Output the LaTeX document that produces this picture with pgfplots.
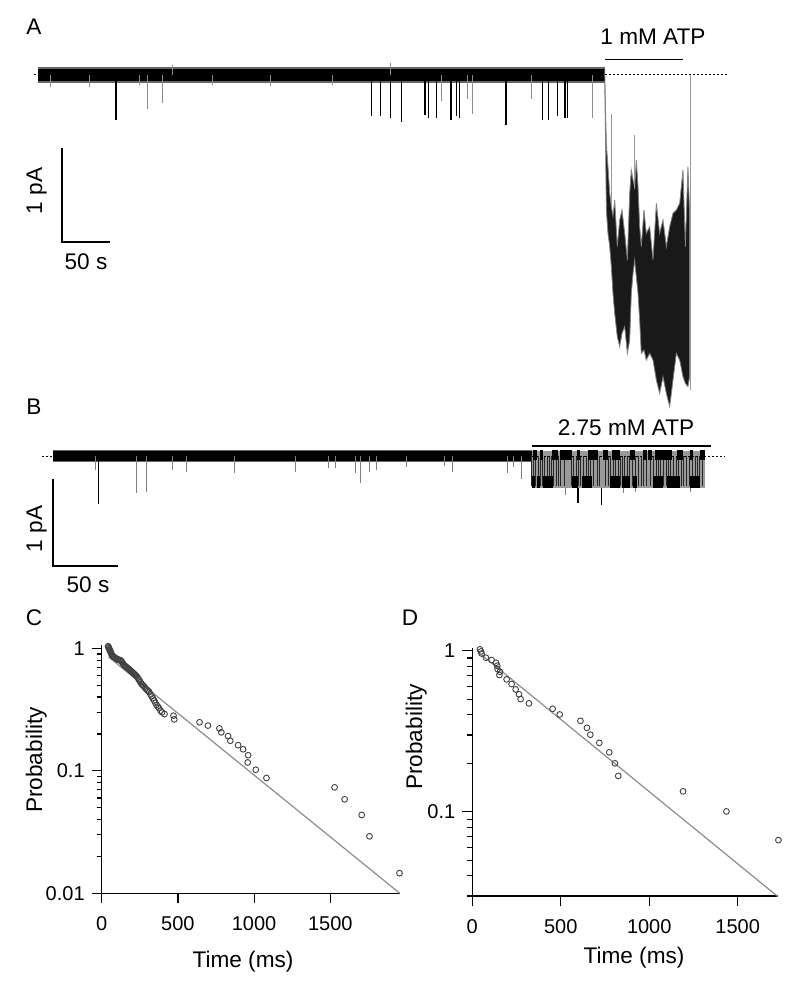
\documentclass[border=0pt]{standalone}
\usepackage{fontspec}
\setmainfont{Liberation Sans}
\usepackage{pgfplots}
\pgfplotsset{compat=1.18}
\definecolor{fitgray}{gray}{0.55}
\definecolor{markgray}{gray}{0.25}

\pgfplotsset{
  trace/.style={scale only axis, hide axis, clip=false, anchor=south west},
  surv/.style={scale only axis, clip=false, anchor=south west,
    axis x line*=bottom, axis y line*=left,
    axis line style={-, line width=0.6pt},
    tick align=outside, major tick length=5pt, minor tick length=2.5pt,
    every tick/.style={line width=0.6pt, black},
    xtick={0,500,1000,1500}, xticklabels={0,500,1000,1500},
    ticklabel style={font=\fontsize{10}{12}\selectfont},
    xticklabel style={yshift=-3pt},
    /pgf/number format/assume math mode=true},
}

\begin{document}
\begin{tikzpicture}[font=\fontsize{11.3}{13}\selectfont]
\path[use as bounding box] (0,0) rectangle (400pt,-492pt);

% ---------------- A: trace, 1 mM ATP ----------------
\begin{axis}[trace, at={(15pt,-200pt)}, width=350pt, height=190pt,
  xmin=-8.3, xmax=720.8, ymin=-3.457, ymax=0.585]
\addplot[fill=black!60, draw=none] coordinates {(0,0.082) (590.6,0.082) (590.6,-0.082) (0,-0.082)};
\addplot[fill=black, draw=none] coordinates {(0,0.066) (590.6,0.066) (590.6,-0.066) (0,-0.066)};
% small noise excursions
\addplot[ycomb, black!45, line width=0.4pt] coordinates {
  (12.5,-0.13) (54,-0.13) (106,-0.11) (182,-0.11) (242,-0.12) (307,-0.11)
  (139.6,0.11) (366.7,0.13)};
% closures
\addplot[ycomb, black, line width=0.6pt] coordinates {
  (81.3,-0.48) (347.6,-0.44) (357.0,-0.44) (367.4,-0.46) (378.9,-0.50)
  (403.1,-0.43) (406.6,-0.46) (415.3,-0.46) (430.2,-0.48) (436.2,-0.44)
  (438.9,-0.46) (487.5,-0.53) (525.7,-0.48) (531.6,-0.48) (541.0,-0.44)
  (549.0,-0.46) (551.4,-0.46)};
\addplot[ycomb, black!45, line width=0.5pt] coordinates {
  (114.6,-0.36) (130.2,-0.30) (420.5,-0.28) (447.2,-0.25) (452.8,-0.41)
  (514.3,-0.25) (577.8,-0.46)};
% current in 1 mM ATP: upper envelope, then lower envelope back
\addplot[fill=black!90, draw=black!50, line width=0.4pt] coordinates {
  (590.3,0.06) (591.0,-0.3) (592.0,-0.727) (593.7,-0.975) (595.5,-1.259)
  (597.2,-1.4) (598.9,-1.5) (600.7,-1.330) (603.4,-1.826) (605.9,-1.542)
  (608.3,-1.436) (611.1,-1.684) (613.9,-1.968) (616.3,-1.259) (618.0,-1.011)
  (619.8,-1.117) (621.5,-1.2) (623.2,-0.904) (625.0,-1.188) (626.7,-1.613)
  (628.4,-1.826) (631.2,-1.436) (633.6,-1.684) (637.1,-1.613) (640.6,-1.968)
  (644.1,-1.365) (647.5,-1.684) (651.0,-1.542) (654.5,-1.826) (658.0,-1.613)
  (661.4,-1.472) (664.9,-1.436) (668.4,-1.365) (671.8,-1.011) (674.3,-1.826)
  (677.0,-0.975) (678.8,-1.5)
  (678.8,-3.2) (677.0,-3.316) (674.3,-3.280) (671.8,-3.209) (668.4,-3.032)
  (664.9,-2.961) (661.4,-3.245) (658.0,-3.528) (654.5,-3.387) (651.0,-3.209)
  (647.5,-3.387) (644.1,-3.245) (640.6,-3.032) (637.1,-2.961) (633.6,-3.032)
  (631.2,-2.926) (628.4,-2.961) (626.7,-2.606) (625.0,-2.323) (623.2,-2.145)
  (621.5,-1.968) (619.8,-2.110) (618.0,-2.323) (616.3,-2.819) (613.9,-2.961)
  (611.1,-2.677) (608.3,-2.748) (605.9,-2.890) (603.4,-2.784) (600.7,-2.535)
  (598.9,-2.323) (597.2,-2.039) (595.5,-1.826) (593.7,-1.684) (592.0,-1.436)
  (591.0,-0.6) (590.3,-0.06)};
\addplot[black!40, line width=0.5pt, unbounded coords=jump] coordinates {
  (597.2,-1.4) (597.2,-0.41) (597.2,nan)
  (621.5,-1.2) (621.5,-0.64) (621.5,nan)
  (679.4,0) (679.4,-3.35)};
% baseline, ATP bar, scale bars
\addplot[black, line width=0.5pt, dash pattern=on 0.8pt off 1.2pt] coordinates {(590.6,0) (718.8,0)};
\addplot[black, line width=0.5pt] coordinates {(-4.5,0) (-2.5,0)};
\addplot[black, line width=0.6pt] coordinates {(590.6,0.167) (671.9,0.167)};
\addplot[black, line width=0.7pt] coordinates {(25,-0.777) (25,-1.777) (75,-1.777)};
\end{axis}

% ---------------- B: trace, 2.75 mM ATP ----------------
\begin{axis}[trace, at={(15pt,-300pt)}, width=355pt, height=95pt,
  xmin=-17.69, xmax=528.3, ymin=-1.655, ymax=0.529]
\addplot[fill=black!60, draw=none] coordinates {(0,0.072) (368.4,0.072) (368.4,-0.072) (0,-0.072)};
\addplot[fill=black, draw=none] coordinates {(0,0.058) (368.4,0.058) (368.4,-0.058) (0,-0.058)};
\addplot[ycomb, black, line width=0.6pt] coordinates {(34.8,-0.55) (403.7,-0.54) (421.9,-0.56)};
\addplot[ycomb, black!50, line width=0.45pt] coordinates {
  (32.3,-0.16) (64.4,-0.43) (72.1,-0.41) (92.1,-0.16) (102.3,-0.18)
  (139.2,-0.2) (186.1,-0.18) (211.7,-0.14) (216.9,-0.14) (232.2,-0.2)
  (236.1,-0.31) (243.2,-0.18) (248.9,-0.16) (271.5,-0.13) (301.4,-0.11)
  (307.4,-0.18) (349.4,-0.2) (354.0,-0.13) (360.4,-0.26)
  (393.7,-0.45) (438.3,-0.42) (447.6,-0.41) (489.9,-0.41)};
% openings in ATP
\addplot[fill=black!40, draw=none] coordinates {(368.4,0.06) (501.4,0.06) (501.4,-0.37) (368.4,-0.37)};
\addplot[ycomb, black!85, line width=0.5pt] coordinates {
  (368.1,-0.34) (369.4,-0.34) (371.4,-0.34) (373.2,-0.34) (375.0,-0.34)
  (376.5,-0.34) (378.3,-0.34) (380.1,-0.34) (381.7,-0.34) (383.4,-0.34)
  (384.7,-0.34) (386.8,-0.34) (388.6,-0.34) (390.6,-0.34) (393.7,-0.34)
  (398.8,-0.34) (400.1,-0.34) (402.2,-0.34) (403.9,-0.34) (405.7,-0.34)
  (407.8,-0.34) (409.9,-0.34) (411.6,-0.34) (413.4,-0.34) (416.0,-0.34)
  (418.6,-0.34) (420.6,-0.34) (425.2,-0.34) (427.0,-0.34) (428.8,-0.34)
  (430.9,-0.34) (432.9,-0.34) (434.7,-0.34) (436.5,-0.34) (438.0,-0.34)
  (439.8,-0.34) (441.6,-0.34) (443.7,-0.34) (445.7,-0.34) (448.3,-0.34)
  (450.3,-0.34) (452.6,-0.34) (454.4,-0.34) (456.5,-0.34) (459.1,-0.34)
  (461.6,-0.34) (463.7,-0.34) (465.5,-0.34) (467.3,-0.34) (469.3,-0.34)
  (471.4,-0.34) (473.2,-0.34) (474.9,-0.34) (477.0,-0.34) (479.1,-0.34)
  (480.8,-0.34) (483.4,-0.34) (485.2,-0.34) (487.3,-0.34) (489.8,-0.34)
  (491.9,-0.34) (493.7,-0.34) (495.5,-0.34) (497.5,-0.34) (499.5,-0.34)};
% closed-level dwells
\addplot[black, line width=5pt, unbounded coords=jump] coordinates {
  (369.4,0.007) (371.9,0.007) (371.9,nan) (374.5,0.007) (377.0,0.007) (377.0,nan)
  (383.4,0.007) (388.6,0.007) (388.6,nan) (389.9,0.007) (398.8,0.007) (398.8,nan)
  (402.7,0.007) (405.2,0.007) (405.2,nan) (411.6,0.007) (419.3,0.007) (419.3,nan)
  (423.2,0.007) (427.0,0.007) (427.0,nan) (429.6,0.007) (436.0,0.007) (436.0,nan)
  (443.7,0.007) (447.5,0.007) (447.5,nan) (453.9,0.007) (456.5,0.007) (456.5,nan)
  (457.8,0.007) (460.3,0.007) (460.3,nan) (462.9,0.007) (475.7,0.007) (475.7,nan)
  (479.6,0.007) (484.7,0.007) (484.7,nan) (489.8,0.007) (492.4,0.007) (492.4,nan)
  (497.5,0.007) (501.3,0.007)};
% open-level dwells
\addplot[black, line width=5.8pt, unbounded coords=jump] coordinates {
  (368.1,-0.30) (370.6,-0.30) (370.6,nan) (371.9,-0.30) (374.5,-0.30) (374.5,nan)
  (377.0,-0.30) (384.7,-0.30) (384.7,nan) (398.8,-0.30) (403.9,-0.30) (403.9,nan)
  (406.5,-0.30) (414.2,-0.30) (414.2,nan) (428.3,-0.30) (436.0,-0.30) (436.0,nan)
  (437.3,-0.30) (443.7,-0.30) (443.7,nan) (446.2,-0.30) (448.8,-0.30) (448.8,nan)
  (461.6,-0.30) (469.3,-0.30) (469.3,nan) (471.9,-0.30) (482.1,-0.30) (482.1,nan)
  (489.8,-0.30) (497.5,-0.30)};
\addplot[black, line width=0.5pt, dash pattern=on 0.8pt off 1.2pt] coordinates {(-8.5,0) (-1,0)};
\addplot[black, line width=0.5pt, dash pattern=on 0.8pt off 1.2pt] coordinates {(368.4,0) (516.8,0)};
\addplot[black, line width=0.6pt] coordinates {(368.4,0.115) (506.0,0.115)};
\addplot[black, line width=0.7pt] coordinates {(0,-0.264) (0,-1.264) (50,-1.264)};
\end{axis}

% ---------------- C: survivor plot ----------------
\begin{axis}[surv, ymode=log, at={(50.85pt,-446.65pt)}, width=149.05pt, height=124.15pt,
  xmin=0, xmax=1956, ymin=0.01, ymax=1.064,
  ytick={0.01,0.1,1}, yticklabels={0.01,0.1,1},
  minor ytick={0.02,0.03,0.04,0.05,0.06,0.07,0.08,0.09,0.2,0.3,0.4,0.5,0.6,0.7,0.8,0.9}]
\addplot[fitgray, line width=0.6pt] coordinates {(45,0.850) (1956,0.01)};
\addplot[only marks, mark=o, mark size=1.45pt, markgray, mark options={line width=0.45pt}] coordinates {
  (42,1.04) (45,1.02) (48,1.0) (50,0.98) (53,0.97) (56,0.95) (59,0.93) (62,0.91)
  (66,0.89) (70,0.87) (75,0.86) (80,0.85) (86,0.84) (92,0.83) (98,0.82) (104,0.81)
  (110,0.81) (116,0.80) (122,0.80) (128,0.79) (134,0.77) (140,0.75) (146,0.73)
  (152,0.72) (158,0.71) (164,0.70) (170,0.69) (176,0.68) (182,0.67) (188,0.66)
  (194,0.65) (200,0.64) (206,0.63) (212,0.62) (218,0.61) (224,0.60) (230,0.59)
  (236,0.575) (242,0.56) (248,0.545) (254,0.53) (260,0.515) (266,0.505)
  (272,0.495) (280,0.485) (288,0.47) (296,0.46) (304,0.45) (312,0.44)
  (320,0.42) (328,0.405) (336,0.39) (344,0.375) (352,0.36) (360,0.345)
  (368,0.335) (376,0.325) (386,0.31) (396,0.30)
  (412,0.291) (471,0.282) (476,0.263) (642,0.249) (697,0.234) (772,0.222)
  (785,0.206) (829,0.192) (844,0.176) (895,0.162) (928,0.150) (961,0.134)
  (958,0.117) (1011,0.102) (1081,0.0874) (1528,0.0733) (1594,0.0585)
  (1706,0.0436) (1757,0.0292) (1954,0.0146)};
\end{axis}

% ---------------- D: survivor plot ----------------
\begin{axis}[surv, ymode=log, at={(236.15pt,-448pt)}, width=152.7pt, height=123.85pt,
  xmin=0, xmax=1726, ymin=0.03, ymax=1.035,
  ytick={0.1,1}, yticklabels={0.1,1},
  minor ytick={0.03,0.04,0.05,0.06,0.07,0.08,0.09,0.2,0.3,0.4,0.5,0.6,0.7,0.8,0.9}]
\addplot[fitgray, line width=0.6pt] coordinates {(50,0.948) (1726,0.0298)};
\addplot[only marks, mark=o, mark size=1.45pt, markgray, mark options={line width=0.45pt}] coordinates {
  (43,1.02) (49,0.99) (53,0.96) (77,0.905) (109,0.875) (134,0.842) (141,0.807)
  (143,0.769) (156,0.741) (153,0.706) (194,0.664) (222,0.621) (245,0.575)
  (264,0.536) (273,0.501) (320,0.471) (454,0.436) (494,0.402) (611,0.367)
  (648,0.332) (667,0.301) (718,0.268) (774,0.234) (806,0.200) (825,0.167)
  (1191,0.134) (1436,0.1005) (1730,0.0667)};
\end{axis}

% ---------------- text ----------------
\node[anchor=base] at (17pt,-17.5pt) {A};
\node[anchor=base] at (17pt,-207pt) {B};
\node[anchor=base] at (17pt,-312.5pt) {C};
\node[anchor=base] at (205pt,-312.5pt) {D};
\node[anchor=base] at (326.5pt,-22.5pt) {1 mM ATP};
\node[anchor=base] at (313pt,-217.5pt) {2.75 mM ATP};
\node[anchor=base, rotate=90] at (21pt,-95.5pt) {1 pA};
\node[anchor=base] at (43pt,-135pt) {50 s};
\node[anchor=base, rotate=90] at (21pt,-264.5pt) {1 pA};
\node[anchor=base] at (44pt,-296pt) {50 s};
\node[anchor=base, rotate=90] at (21pt,-380pt) {Probability};
\node[anchor=base] at (121.5pt,-483.5pt) {Time (ms)};
\node[anchor=base, rotate=90] at (211pt,-368.5pt) {Probability};
\node[anchor=base] at (317pt,-481.5pt) {Time (ms)};
\end{tikzpicture}
\end{document}
